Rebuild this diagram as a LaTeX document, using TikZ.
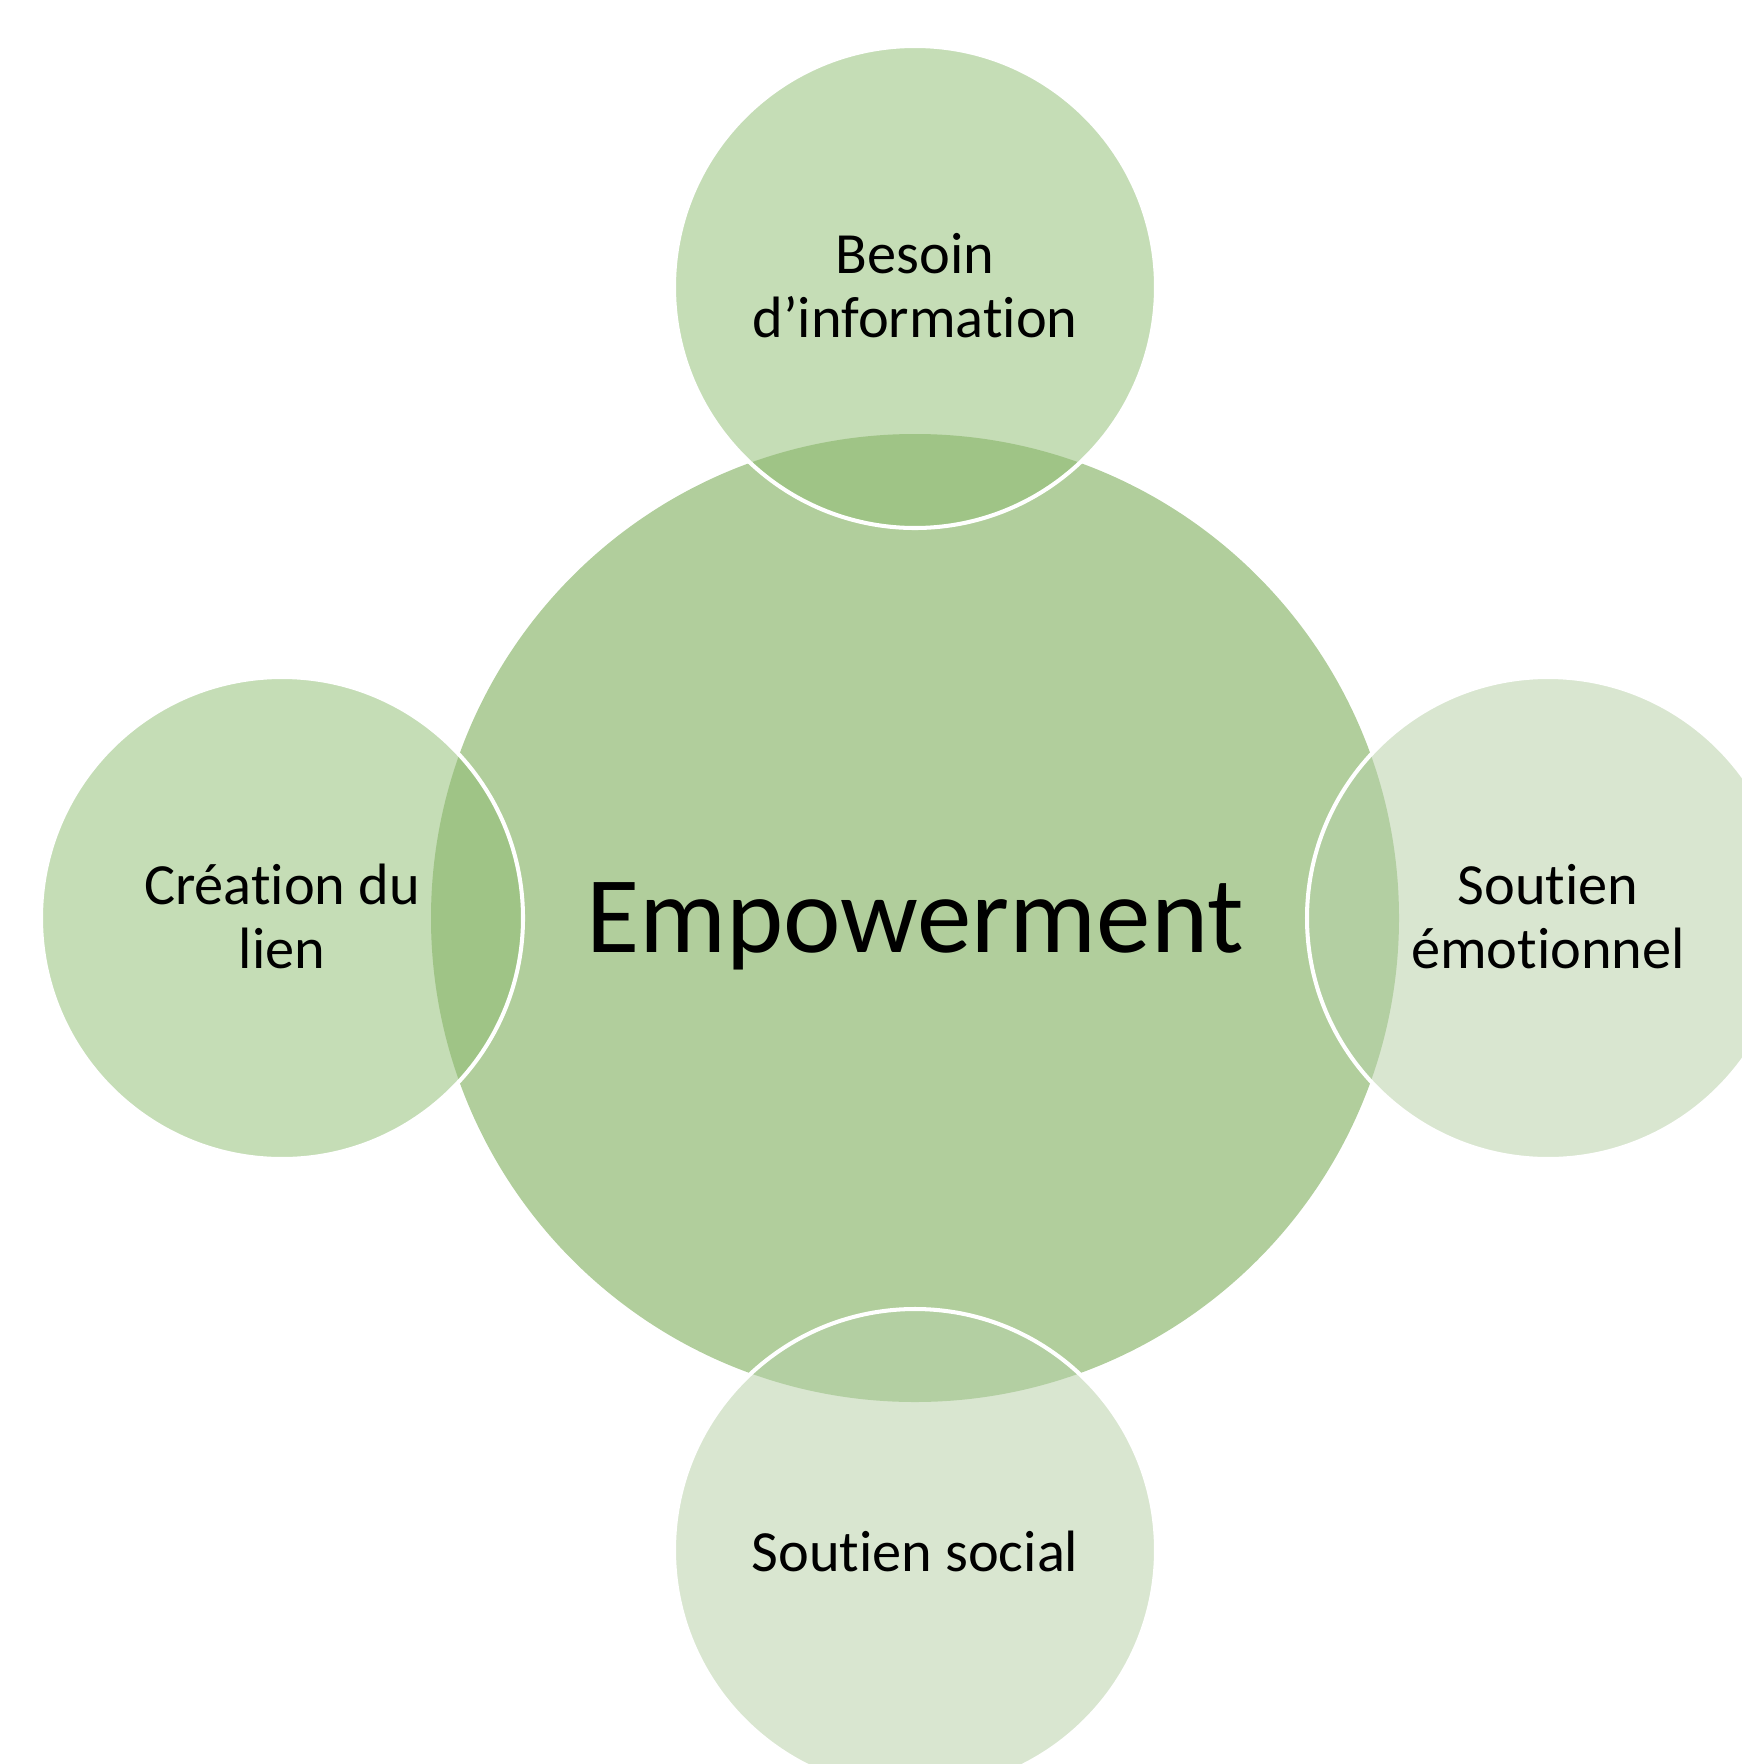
\documentclass[tikz,border=0pt]{standalone}
\usepackage{fontspec}
\setmainfont{Carlito}[Ligatures=NoCommon]
\definecolor{bigfill}{HTML}{B1CE9C}
\definecolor{strongfill}{HTML}{C5DDB6}
\definecolor{softfill}{HTML}{D9E6D0}
\definecolor{strongover}{HTML}{9FC486}
\definecolor{softover}{HTML}{B3CFA2}
\begin{document}
\begin{tikzpicture}[
  bigc/.style={circle, minimum size=9.68cm, inner sep=0pt, outer sep=0pt, fill=bigfill},
  smallc/.style={circle, minimum size=4.82cm, inner sep=0pt, outer sep=0pt},
  ring/.style={draw=white, line width=1.15pt},
  lbl/.style={anchor=base, inner sep=0pt, font=\fontsize{16.6pt}{18.2pt}\selectfont},
  biglbl/.style={anchor=base, inner sep=0pt, font=\fontsize{31pt}{37pt}\selectfont}
]
\useasboundingbox (0,0) rectangle (17.42,-17.64);
\clip (0,0) rectangle (17.42,-17.64);
% circles
\node[bigc] (emp) at (9.15,-9.18) {};
\node[smallc, fill=strongfill] (info) at (9.15,-2.87) {};
\node[smallc, fill=strongfill] (lien) at (2.82,-9.18) {};
\node[smallc, fill=softfill] (emo) at (15.48,-9.18) {};
\node[smallc, fill=softfill] (soc) at (9.15,-15.50) {};
% overlaps
\begin{scope}
  \clip (emp.center) circle (4.84cm);
  \fill[strongover] (info.center) circle (2.41cm);
  \fill[strongover] (lien.center) circle (2.41cm);
  \fill[softover] (emo.center) circle (2.41cm);
  \fill[softover] (soc.center) circle (2.41cm);
\end{scope}
% white outlines
\draw[ring] (info.center) circle (2.41cm);
\draw[ring] (lien.center) circle (2.41cm);
\draw[ring] (emo.center) circle (2.41cm);
\draw[ring] (soc.center) circle (2.41cm);
% texts
\node[biglbl] (tEmp) at (9.15,-9.52) {Empowerment};
\node[lbl] (tInfoA) at (9.15,-2.73) {Besoin};
\node[lbl] (tInfoB) at (9.15,-3.37) {d’information};
\node[lbl] (tLienA) at (2.82,-9.04) {Création du};
\node[lbl] (tLienB) at (2.82,-9.68) {lien};
\node[lbl] (tEmoA) at (15.48,-9.04) {Soutien};
\node[lbl] (tEmoB) at (15.48,-9.68) {émotionnel};
\node[lbl] (tSoc) at (9.15,-15.71) {Soutien social};
\end{tikzpicture}
\end{document}
